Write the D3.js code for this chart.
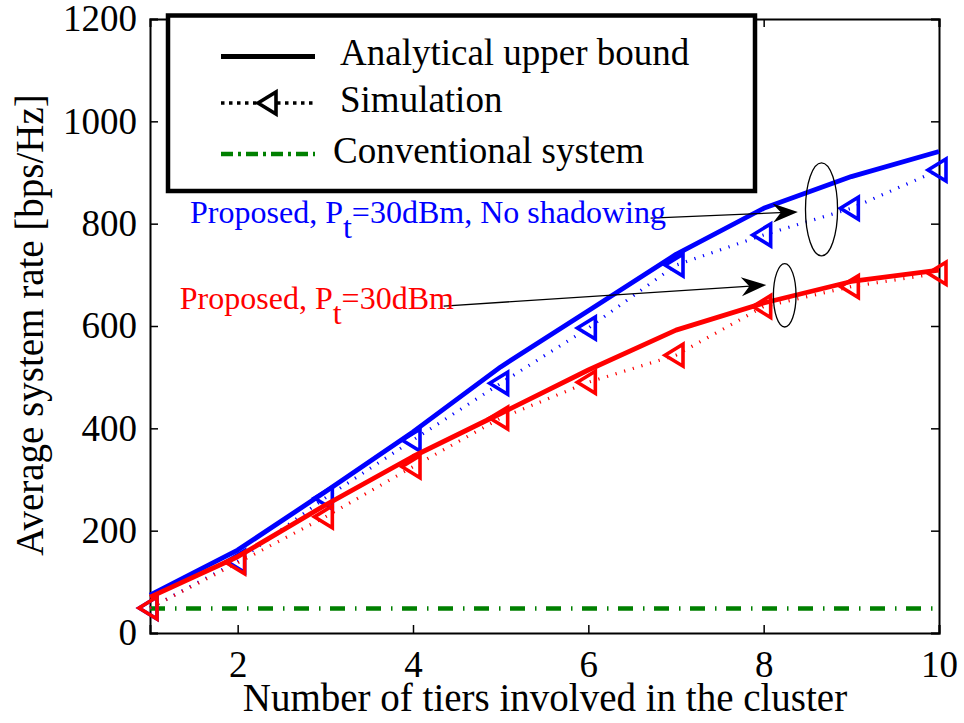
<!DOCTYPE html>
<html>
<head>
<meta charset="utf-8">
<script src="https://cdn.jsdelivr.net/npm/d3@7"></script>
<style>
  html, body { margin: 0; padding: 0; background: #fff; }
  svg { display: block; }
  text { font-family: "Liberation Serif", "Times New Roman", serif; }
</style>
</head>
<body>
<svg id="chart" width="964" height="723"></svg>
<script>
// Number of tiers in the cluster
const tiers = [1, 2, 3, 4, 5, 6, 7, 8, 9, 10];

// Average system rate [bps/Hz]
const noShadowAnalytical = [74, 162, 276, 393, 520, 630, 740, 830, 892, 941];
const noShadowSimulation = [49, 140, 264, 377, 488, 596, 719, 778, 830, 905];
const shadowAnalytical   = [70, 149, 250, 345, 429, 514, 592, 645, 687, 709];
const shadowSimulation   = [49, 137, 227, 325, 420, 490, 543, 638, 677, 703];
const conventional       = [48, 48, 48, 48, 48, 48, 48, 48, 48, 48];

const xTicks = [2, 4, 6, 8, 10];
const yTicks = [0, 200, 400, 600, 800, 1000, 1200];

const legendLabels = ["Analytical upper bound", "Simulation", "Conventional system"];

const FONT = '"Liberation Serif", "Times New Roman", serif';
const svg = d3.select("#chart");
const W = 964, H = 723;
const x0 = 150, x1 = 939, y0 = 633, y1 = 19;

const x = d3.scaleLinear().domain([1, 10]).range([x0, x1]);
const y = d3.scaleLinear().domain([0, 1200]).range([y0, y1]);

svg.append("rect").attr("width", W).attr("height", H).attr("fill", "#fff");

// Axes: closed box with inward ticks on all four sides
const tickLen = 8;
const gAx = svg.append("g");

gAx.append("g").attr("transform", `translate(0,${y0})`)
  .call(d3.axisBottom(x).tickValues(xTicks).tickSize(-tickLen).tickPadding(18).tickFormat(d3.format("d")));
gAx.append("g").attr("transform", `translate(0,${y1})`)
  .call(d3.axisTop(x).tickValues(xTicks).tickSize(-tickLen).tickFormat(""));
gAx.append("g").attr("transform", `translate(${x0},0)`)
  .call(d3.axisLeft(y).tickValues(yTicks).tickSize(-tickLen).tickPadding(13).tickFormat(d3.format("d")));
gAx.append("g").attr("transform", `translate(${x1},0)`)
  .call(d3.axisRight(y).tickValues(yTicks).tickSize(-tickLen).tickFormat(""));

gAx.selectAll(".domain").attr("stroke", "#000").attr("stroke-width", 2);
gAx.selectAll(".tick line").attr("stroke", "#000").attr("stroke-width", 1.5);
gAx.selectAll(".tick text")
  .attr("fill", "#000")
  .style("font-family", FONT)
  .style("font-size", "37px");

// Axis titles
svg.append("text")
  .attr("x", 545).attr("y", 711)
  .attr("text-anchor", "middle")
  .style("font-size", "39px")
  .text("Number of tiers involved in the cluster");
svg.append("text")
  .attr("transform", `translate(43,325) rotate(-90)`)
  .attr("text-anchor", "middle")
  .style("font-size", "39px")
  .text("Average system rate [bps/Hz]");

// Left-pointing triangle marker
const triPath = "M-11,0 L7,-11 L7,11 Z";

const line = d3.line().x((d, i) => x(tiers[i])).y(d => y(d));

function drawSeries(values, color, dotted) {
  const p = svg.append("path").datum(values)
    .attr("d", line).attr("fill", "none").attr("stroke", color);
  if (dotted) {
    p.attr("stroke-width", 3.2).attr("stroke-dasharray", "1.2,7.8");
  } else {
    p.attr("stroke-width", 4.8).attr("stroke-linejoin", "round");
  }
  return p;
}
function drawMarkers(values, color) {
  svg.append("g").selectAll("path").data(values).join("path")
    .attr("d", triPath)
    .attr("transform", (d, i) => `translate(${x(tiers[i])},${y(d)})`)
    .attr("fill", "none").attr("stroke", color).attr("stroke-width", 3.6)
    .attr("stroke-linejoin", "miter");
}

// Conventional system
svg.append("path").datum(conventional)
  .attr("d", line).attr("fill", "none").attr("stroke", "#008000")
  .attr("stroke-width", 4.5).attr("stroke-dasharray", "15,10,1.5,9.5");

// Proposed, no shadowing
drawSeries(noShadowAnalytical, "#0000ff", false);
drawSeries(noShadowSimulation, "#0000ff", true);
drawMarkers(noShadowSimulation, "#0000ff");

// Proposed, with shadowing
drawSeries(shadowAnalytical, "#ff0000", false);
drawSeries(shadowSimulation, "#ff0000", true);
drawMarkers(shadowSimulation, "#ff0000");

// Annotations: ellipses grouping the curve pairs, arrows and labels (data coordinates)
const ellipses = [
  { cx: 8.66, cy: 828, rx: 0.183, ry: 91 },
  { cx: 8.24, cy: 660, rx: 0.129, ry: 62 }
];
svg.append("g").selectAll("ellipse").data(ellipses).join("ellipse")
  .attr("cx", d => x(d.cx)).attr("cy", d => y(d.cy))
  .attr("rx", d => x(1 + d.rx) - x(1)).attr("ry", d => y(0) - y(d.ry))
  .attr("fill", "none").attr("stroke", "#000").attr("stroke-width", 1.3);

const arrows = [
  { from: [6.71, 811], to: [8.39, 823] },
  { from: [4.35, 639], to: [8.03, 680] }
];
arrows.forEach(a => {
  const sx = x(a.from[0]), sy = y(a.from[1]);
  const ex = x(a.to[0]), ey = y(a.to[1]);
  const ang = Math.atan2(ey - sy, ex - sx) * 180 / Math.PI;
  const len = Math.hypot(ex - sx, ey - sy);
  const g = svg.append("g").attr("transform", `translate(${sx},${sy}) rotate(${ang})`);
  g.append("line").attr("x1", 0).attr("y1", 0).attr("x2", len - 12).attr("y2", 0)
    .attr("stroke", "#000").attr("stroke-width", 1.3);
  g.append("path")
    .attr("d", `M${len},0 L${len - 25},-9.5 L${len - 17},0 L${len - 25},9.5 Z`)
    .attr("fill", "#000");
});

const annotations = [
  { x: 1.457, y: 801, color: "#0000ff", pre: "Proposed, P", sub: "t", post: "=30dBm, No shadowing" },
  { x: 1.34, y: 633, color: "#ff0000", pre: "Proposed, P", sub: "t", post: "=30dBm" }
];
annotations.forEach(a => {
  const t = svg.append("text")
    .attr("x", x(a.x)).attr("y", y(a.y))
    .attr("fill", a.color).style("font-size", "32px");
  t.append("tspan").text(a.pre);
  t.append("tspan").attr("dy", 15).text(a.sub);
  t.append("tspan").attr("dy", -15).text(a.post);
});

// Legend
const lg = svg.append("g");
lg.append("rect").attr("x", 168).attr("y", 15.5).attr("width", 587).attr("height", 175.5)
  .attr("fill", "#fff").attr("stroke", "#000").attr("stroke-width", 4.5);

const rows = [56.5, 103, 154];
const textX = [340, 340, 333];
const textY = [65, 112, 163];
// solid
lg.append("line").attr("x1", 221).attr("x2", 315).attr("y1", rows[0]).attr("y2", rows[0])
  .attr("stroke", "#000").attr("stroke-width", 4.8);
// dotted + marker
lg.append("line").attr("x1", 221).attr("x2", 315).attr("y1", rows[1]).attr("y2", rows[1])
  .attr("stroke", "#000").attr("stroke-width", 3.5).attr("stroke-dasharray", "3.5,4.5");
lg.append("path").attr("d", triPath).attr("transform", `translate(269,${rows[1]})`)
  .attr("fill", "#fff").attr("stroke", "#000").attr("stroke-width", 3.6);
// dash-dot
lg.append("line").attr("x1", 221).attr("x2", 315).attr("y1", rows[2]).attr("y2", rows[2])
  .attr("stroke", "#008000").attr("stroke-width", 4.5).attr("stroke-dasharray", "12,5,3,5");

lg.selectAll("text.lab").data(legendLabels).join("text")
  .attr("class", "lab")
  .attr("x", (d, i) => textX[i]).attr("y", (d, i) => textY[i])
  .style("font-size", "37px").attr("fill", "#000")
  .text(d => d);
</script>
</body>
</html>
